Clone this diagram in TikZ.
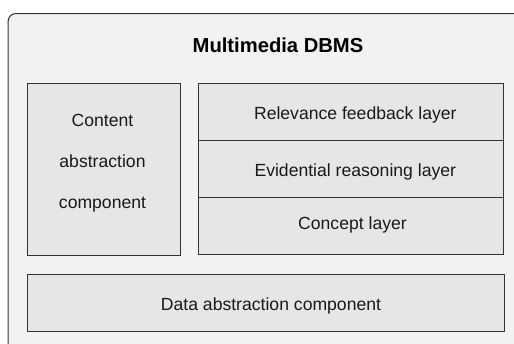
\documentclass[tikz,border=0pt]{standalone}
\usepackage{fontspec}
\setmainfont{Liberation Sans}
\definecolor{outerbg}{HTML}{F2F2F2}
\definecolor{boxbg}{HTML}{E6E6E6}
\definecolor{edge}{HTML}{333333}
\begin{document}
\begin{tikzpicture}[x=1pt,y=-1pt,
  box/.style={draw=edge, fill=boxbg, line width=1pt, inner sep=0pt, outer sep=0pt},
  lbl/.style={font=\fontsize{17.6}{20}\selectfont, anchor=base, inner sep=0pt, text=black!90},
  ttl/.style={font=\fontsize{20.2}{24}\selectfont\bfseries, anchor=base, inner sep=0pt}]
\useasboundingbox (0,0) rectangle (514,343);
\fill[white] (0,0) rectangle (514,343);
\begin{scope}
  \clip (0,0) rectangle (514,343);
  \draw[draw=edge, fill=outerbg, line width=1pt, rounded corners=8pt] (8,13.5) rectangle (560,380);
\end{scope}
\node[ttl] (title) at (278,52.5) {Multimedia DBMS};
% boxes
\node[box, minimum width=153pt, minimum height=171.7pt] (content) at (103.5,169.2) {};
\node[box, minimum width=305.2pt, minimum height=57.4pt] (relev) at (351.1,112) {};
\node[box, minimum width=305.2pt, minimum height=57pt] (evid) at (351.1,169.2) {};
\node[box, minimum width=305.2pt, minimum height=56.6pt] (concept) at (351.1,226) {};
\node[box, minimum width=477pt, minimum height=57pt] (data) at (265.5,302.5) {};
% labels
\node[lbl] (c1) at (102.5,126.7) {Content};
\node[lbl] (c2) at (102.5,167.5) {abstraction};
\node[lbl] (c3) at (102.5,208.3) {component};
\node[lbl] (t1) at (355.3,119.3) {Relevance feedback layer};
\node[lbl] (t2) at (355.3,176) {Evidential reasoning layer};
\node[lbl] (t3) at (352.5,229) {Concept layer};
\node[lbl] (t4) at (271,310) {Data abstraction component};
\end{tikzpicture}
\end{document}
